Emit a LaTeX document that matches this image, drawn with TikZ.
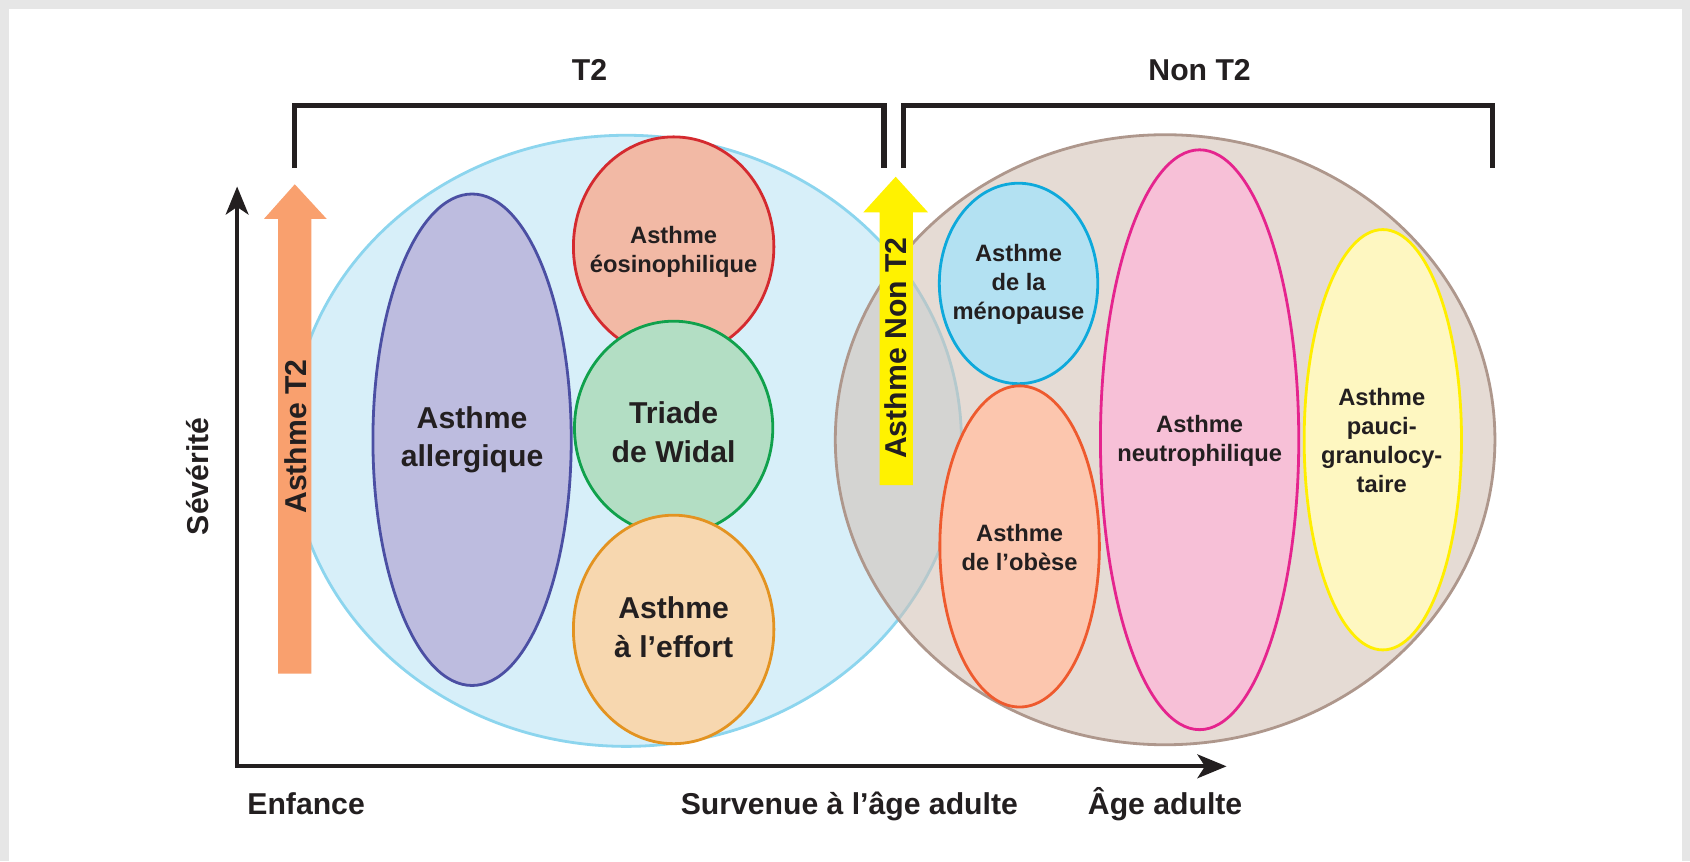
\documentclass[tikz,border=0pt]{standalone}
\usepackage{fontspec}
\setmainfont{Liberation Sans}
\usetikzlibrary{shapes.geometric,arrows.meta}

\definecolor{ink}{HTML}{231F20}
\definecolor{frame}{HTML}{E6E6E6}
\definecolor{tfill}{HTML}{D7EFF9}
\definecolor{tline}{HTML}{8CD5EE}
\definecolor{nfill}{HTML}{D3C0B5}
\definecolor{nline}{HTML}{AE978C}
\definecolor{allF}{HTML}{BDBCDF}\definecolor{allL}{HTML}{4B4FA3}
\definecolor{eosF}{HTML}{F2B9A5}\definecolor{eosL}{HTML}{D42A2F}
\definecolor{widF}{HTML}{B3DEC4}\definecolor{widL}{HTML}{10A14C}
\definecolor{effF}{HTML}{F7D7AF}\definecolor{effL}{HTML}{E39321}
\definecolor{menF}{HTML}{B3E1F2}\definecolor{menL}{HTML}{0EA9DB}
\definecolor{obeF}{HTML}{FCC6AE}\definecolor{obeL}{HTML}{EE5A2E}
\definecolor{neuF}{HTML}{F7C0D7}\definecolor{neuL}{HTML}{E5248E}
\definecolor{pauF}{HTML}{FEF7C1}\definecolor{pauL}{HTML}{FFEE00}
\definecolor{arrT}{HTML}{F9A06E}
\definecolor{arrN}{HTML}{FFF200}

\begin{document}
\begin{tikzpicture}[x=1pt,y=-1pt,
  blob/.style n args={4}{ellipse, inner sep=0pt, line width=2.6pt,
    minimum width=#1pt, minimum height=#2pt, draw=#4, fill=#3},
  big/.style={text=ink, align=center, font=\fontsize{28}{36}\selectfont\bfseries},
  small/.style={text=ink, align=center, font=\fontsize{22}{27}\selectfont\bfseries},
  lab/.style={text=ink, font=\fontsize{28}{34}\selectfont\bfseries, inner sep=0pt},
  bracket/.style={line width=5pt, draw=ink, line join=miter},
  axis/.style={line width=4pt, draw=ink, line join=miter,
    {Stealth[length=26pt,width=21pt,inset=7pt]}-{Stealth[length=27pt,width=22pt,inset=7pt]}}
]
\useasboundingbox (0,0) rectangle (1568,799);

% card on a grey frame
\fill[frame] (0,0) rectangle (1568,799);
\fill[white] (8,8) rectangle (1561,805);

% group headings and brackets
\node[lab, anchor=base] (hT2) at (547,75) {T2};
\node[lab, anchor=base] (hNT2) at (1113,75) {Non T2};
\draw[bracket] (273,156) -- (273,98) -- (820,98) -- (820,156);
\draw[bracket] (838,156) -- (838,98) -- (1385,98) -- (1385,156);

% the two large families
\node[blob={622}{567}{tfill}{tline}] (t2) at (581,409) {};
\fill[nfill, fill opacity=0.57] (1081,408) ellipse [x radius=306, y radius=283];
\node[ellipse, inner sep=0pt, minimum width=612pt, minimum height=566pt,
      draw=nline, line width=2.6pt] (nt2) at (1081,408) {};

% T2 phenotypes
\node[blob={184}{456}{allF}{allL}] (all) at (438,408) {};
\node[blob={186}{204}{eosF}{eosL}] (eos) at (625,229) {};
\node[blob={184}{198}{widF}{widL}] (wid) at (625,397) {};
\node[blob={186}{212}{effF}{effL}] (eff) at (625,584) {};
\node[big] (allT) at (438,408) {Asthme\\allergique};
\node[small] (eosT) at (625,234) {Asthme\\éosinophilique};
\node[big] (widT) at (625,401) {Triade\\de Widal};
\node[big] (effT) at (625,582) {Asthme\\à l’effort};

% non-T2 phenotypes
\node[blob={147}{186}{menF}{menL}] (men) at (945,263) {};
\node[blob={148}{298}{obeF}{obeL}] (obe) at (946,507) {};
\node[blob={184}{538}{neuF}{neuL}] (neu) at (1113,408) {};
\node[blob={146}{390}{pauF}{pauL}] (pau) at (1283,408) {};
\node[small] (menT) at (945,264) {Asthme\\de la\\ménopause};
\node[small] (obeT) at (946,508) {Asthme\\de l’obèse};
\node[small] (neuT) at (1113,409) {Asthme\\neutrophilique};
\node[small] (pauT) at (1282,409) {Asthme\\pauci-\\granulocy-\\taire};

% block arrows
\fill[arrT] (258,625) -- (258,203) -- (245,203) -- (273.5,171) -- (303,203)
  -- (289,203) -- (289,625) -- cycle;
\fill[arrN] (816,450) -- (816,197) -- (801,197) -- (831,164) -- (861,197)
  -- (847,197) -- (847,450) -- cycle;
\node[lab, rotate=90, anchor=base] (aT2) at (284,405) {Asthme T2};
\node[lab, rotate=90, anchor=base] (aNT2) at (841,323) {Asthme Non T2};

% axes
\coordinate (ytip) at (220,173);
\coordinate (orig) at (220,711);
\coordinate (xtip) at (1138,711);
\draw[axis] (ytip) -- (orig) -- (xtip);
\node[lab, rotate=90, anchor=base] (sev) at (193,442) {Sévérité};
\node[lab, anchor=base] (enf) at (284,756) {Enfance};
\node[lab, anchor=base] (surv) at (788,756) {Survenue à l’âge adulte};
\node[lab, anchor=base] (adu) at (1081,756) {Âge adulte};
\end{tikzpicture}
\end{document}
